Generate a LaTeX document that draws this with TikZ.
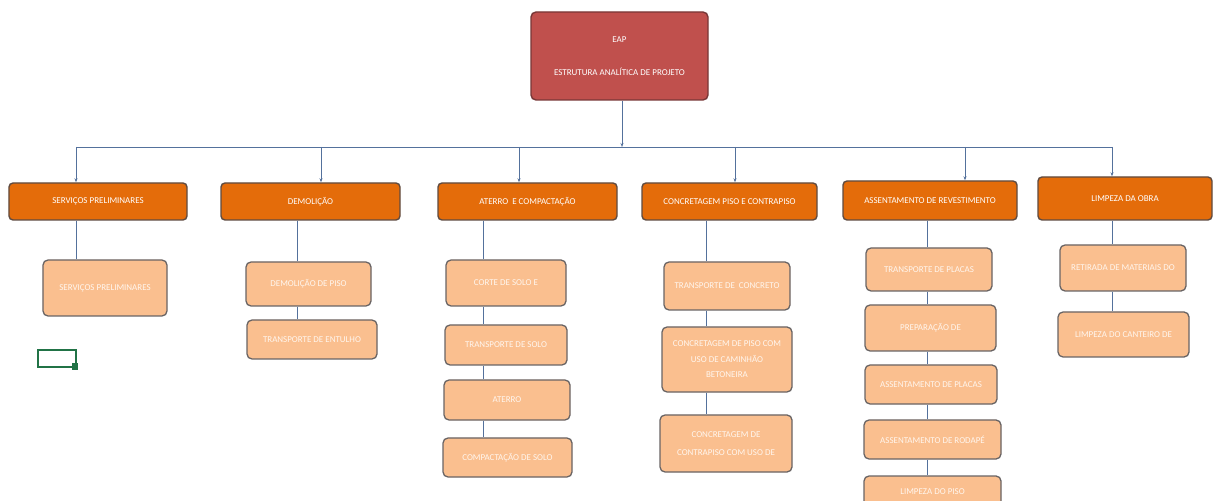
\documentclass[tikz,border=0pt]{standalone}
\usepackage{fontspec}
\setmainfont{Carlito}
\usetikzlibrary{arrows.meta}
\definecolor{topfill}{RGB}{192,80,77}
\definecolor{topdraw}{RGB}{120,55,55}
\definecolor{lvfill}{RGB}{228,108,10}
\definecolor{lvdraw}{RGB}{95,75,65}
\definecolor{chfill}{RGB}{250,191,143}
\definecolor{chdraw}{RGB}{105,100,100}
\definecolor{chtext}{RGB}{255,246,238}
\definecolor{conn}{RGB}{84,113,156}
\definecolor{xlgreen}{RGB}{33,115,70}
\begin{document}
\begin{tikzpicture}[x=1bp,y=-1bp,
  every node/.style={font=\fontsize{9}{15.5}\selectfont, inner sep=0pt, align=center},
  topbox/.style={draw=topdraw, fill=topfill, line width=1.4bp, rounded corners=5bp, text=white},
  lvbox/.style={draw=lvdraw, fill=lvfill, line width=1.4bp, rounded corners=4bp, text=white},
  chbox/.style={draw=chdraw, fill=chfill, line width=1.3bp, rounded corners=5bp, text=chtext},
  link/.style={draw=conn, line width=0.8bp},
  arr/.style={link, -{Stealth[length=4bp,width=3bp]}}
]
\useasboundingbox (0,0) rectangle (1213,501);
\fill[white] (0,0) rectangle (1213,501);

% top
\node[topbox, minimum width=177bp, minimum height=88bp] (eap) at (619.5,56) {EAP\\[17.5bp]ESTRUTURA ANALÍTICA DE PROJETO};

% level 1
\node[lvbox, minimum width=178bp, minimum height=37bp] (S) at (98,201.5) {SERVIÇOS PRELIMINARES};
\node[lvbox, minimum width=179bp, minimum height=37bp] (D) at (310.5,201.5) {DEMOLIÇÃO};
\node[lvbox, minimum width=179bp, minimum height=37bp] (A) at (527.5,201.5) {ATERRO\ \ E COMPACTAÇÃO};
\node[lvbox, minimum width=175bp, minimum height=37bp] (C) at (729.5,201.5) {CONCRETAGEM PISO E CONTRAPISO};
\node[lvbox, minimum width=174bp, minimum height=39bp] (R) at (930,200.5) {ASSENTAMENTO DE REVESTIMENTO};
\node[lvbox, minimum width=174bp, minimum height=43bp] (L) at (1125,198.5) {LIMPEZA DA OBRA};

% children
\node[chbox, minimum width=124bp, minimum height=56bp] (S1) at (105,288) {SERVIÇOS PRELIMINARES};
\node[chbox, minimum width=125bp, minimum height=44bp] (D1) at (308.5,284) {DEMOLIÇÃO DE PISO};
\node[chbox, minimum width=130bp, minimum height=39bp] (D2) at (312,339.5) {TRANSPORTE DE ENTULHO};
\node[chbox, minimum width=120bp, minimum height=46bp] (A1) at (506,283) {CORTE DE SOLO E};
\node[chbox, minimum width=122bp, minimum height=40bp] (A2) at (506,345) {TRANSPORTE DE SOLO};
\node[chbox, minimum width=126bp, minimum height=40bp] (A3) at (507,400) {ATERRO};
\node[chbox, minimum width=129bp, minimum height=39bp] (A4) at (507.5,457.5) {COMPACTAÇÃO DE SOLO};
\node[chbox, minimum width=126bp, minimum height=48bp] (C1) at (727,286) {TRANSPORTE DE\ \ CONCRETO};
\node[chbox, minimum width=130bp, minimum height=65bp] (C2) at (727,359.5) {CONCRETAGEM DE PISO COM\\USO DE CAMINHÃO\\BETONEIRA};
\node[chbox, minimum width=132bp, minimum height=57bp] (C3) at (726,443.5) {CONCRETAGEM DE\\[2.5bp]CONTRAPISO COM USO DE};
\node[chbox, minimum width=126bp, minimum height=43bp] (R1) at (929,269.5) {TRANSPORTE DE PLACAS};
\node[chbox, minimum width=131bp, minimum height=46bp] (R2) at (930.5,328) {PREPARAÇÃO DE};
\node[chbox, minimum width=132bp, minimum height=39bp] (R3) at (931,384.5) {ASSENTAMENTO DE PLACAS};
\node[chbox, minimum width=137bp, minimum height=39bp] (R4) at (932.5,439.5) {ASSENTAMENTO DE RODAPÉ};
\node[chbox, minimum width=137bp, minimum height=32bp] (R5) at (932.5,492) {LIMPEZA DO PISO};
\node[chbox, minimum width=126bp, minimum height=46bp] (L1) at (1123,268) {RETIRADA DE MATERIAIS DO};
\node[chbox, minimum width=131bp, minimum height=45bp] (L2) at (1123.5,334.5) {LIMPEZA DO CANTEIRO DE};

% bus coordinates
\coordinate (top) at (622,100);
\coordinate (busC) at (622,147);
\coordinate (bS) at (76,147);
\coordinate (bD) at (321,147);
\coordinate (bA) at (519,147);
\coordinate (bC) at (735,147);
\coordinate (bR) at (965,147);
\coordinate (bL) at (1112,147);

\draw[arr] (eap.south -| top) -- (busC);
\draw[link] (bS) -- (bL);
\draw[arr] (bS) -- (S.north -| bS);
\draw[arr] (bD) -- (D.north -| bD);
\draw[arr] (bA) -- (A.north -| bA);
\draw[arr] (bC) -- (C.north -| bC);
\draw[arr] (bR) -- (R.north -| bR);
\draw[arr] (bL) -- (L.north -| bL);

% vertical child lines
\coordinate (xS) at (76,0);
\coordinate (xD) at (297,0);
\coordinate (xA) at (483,0);
\coordinate (xC) at (706,0);
\coordinate (xR) at (927,0);
\coordinate (xL) at (1112,0);
\draw[link] (S.south -| xS) -- (S1.north -| xS);
\draw[link] (D.south -| xD) -- (D1.north -| xD);
\draw[link] (D1.south -| xD) -- (D2.north -| xD);
\draw[link] (A.south -| xA) -- (A1.north -| xA);
\draw[link] (A1.south -| xA) -- (A2.north -| xA);
\draw[link] (A2.south -| xA) -- (A3.north -| xA);
\draw[link] (A3.south -| xA) -- (A4.north -| xA);
\draw[link] (C.south -| xC) -- (C1.north -| xC);
\draw[link] (C1.south -| xC) -- (C2.north -| xC);
\draw[link] (C2.south -| xC) -- (C3.north -| xC);
\draw[link] (R.south -| xR) -- (R1.north -| xR);
\draw[link] (R1.south -| xR) -- (R2.north -| xR);
\draw[link] (R2.south -| xR) -- (R3.north -| xR);
\draw[link] (R3.south -| xR) -- (R4.north -| xR);
\draw[link] (R4.south -| xR) -- (R5.north -| xR);
\draw[link] (L.south -| xL) -- (L1.north -| xL);
\draw[link] (L1.south -| xL) -- (L2.north -| xL);

% green cell marker
\draw[xlgreen, line width=2bp] (38,350) rectangle (76,367);
\fill[xlgreen] (72,363) rectangle (78,370);
\end{tikzpicture}
\end{document}
